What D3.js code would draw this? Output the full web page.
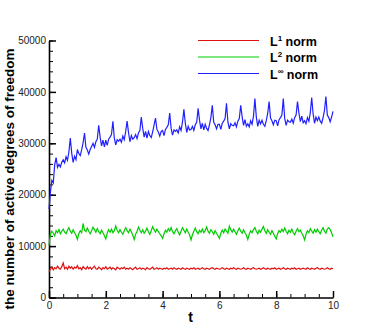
<!DOCTYPE html>
<html lang="en">
<head>
<meta charset="UTF-8">
<title>Active degrees of freedom</title>
<script src="https://d3js.org/d3.v7.min.js"></script>
<style>
  body { margin: 0; background: #fff; }
  svg text { font-family: "Liberation Sans", Arial, sans-serif; }
  .tick text { font-size: 10px; fill: #222; }
  .axis path, .axis line { stroke: #000; }
</style>
</head>
<body>
<svg width="378" height="336"></svg>
<script>
// time samples: 0, 0.05, ..., 10 (201 points)
const tValues = d3.range(0, 201).map(i => i * 0.05);

const l1Norm = [
  5000, 5500, 5900, 5400, 5800, 5600, 6100, 5700, 5500, 6000,
  6700, 5600, 5900, 5500, 6100, 5700, 6000, 5500, 5900, 5700,
  6200, 5600, 5800, 5400, 6000, 5700, 5500, 6000, 5600, 5900,
  5500, 5800, 6100, 5600, 5500, 5900, 5700, 5400, 5800, 5600,
  6000, 5500, 5700, 5900, 5500, 5800, 5600, 5400, 5900, 5700,
  5500, 5800, 5600, 5900, 5500, 5700, 5500, 5800, 5600, 5400,
  5700, 5900, 5500, 5600, 5800, 5500, 5700, 5600, 5400, 5800,
  5600, 5500, 5700, 5900, 5500, 5600, 5800, 5500, 5700, 5600,
  5500, 5700, 5600, 5800, 5500, 5600, 5700, 5500, 5800, 5600,
  5500, 5700, 5600, 5500, 5800, 5600, 5500, 5700, 5600, 5500,
  5700, 5600, 5800, 5500, 5600, 5700, 5500, 5600, 5800, 5600,
  5500, 5700, 5600, 5500, 5700, 5800, 5600, 5500, 5700, 5600,
  5500, 5600, 5800, 5600, 5500, 5700, 5600, 5500, 5700, 5600,
  5800, 5600, 5500, 5700, 5600, 5500, 5600, 5800, 5600, 5500,
  5700, 5600, 5500, 5700, 5800, 5600, 5500, 5600, 5700, 5500,
  5600, 5800, 5600, 5500, 5700, 5600, 5500, 5700, 5600, 5800,
  5500, 5600, 5700, 5500, 5600, 5800, 5600, 5500, 5700, 5600,
  5500, 5700, 5600, 5800, 5500, 5600, 5700, 5500, 5600, 5700,
  5600, 5500, 5800, 5600, 5500, 5700, 5600, 5500, 5700, 5800,
  5600, 5500, 5700, 5600, 5500, 5600, 5800, 5600, 5500, 5700,
  5600
];

const l2Norm = [
  10200, 12300, 12900, 12500, 12000, 13000, 12600, 13200, 12400, 12900,
  13300, 12700, 12400, 13100, 13600, 12900, 12500, 13200, 12600, 12100,
  11300, 12400, 13000, 12600, 14400, 13100, 12800, 13500, 12900, 12400,
  13000, 13700, 13200, 12700, 13400, 12800, 12400, 13100, 12600, 12000,
  11400, 12500, 13200, 12700, 13300, 12600, 13000, 13900, 13100, 12600,
  13200, 12700, 12300, 13000, 13600, 13000, 12600, 13300, 12800, 12100,
  11300, 12300, 12900, 13700, 13100, 12600, 13200, 12500, 12900, 13500,
  12800, 12300, 13000, 13800, 13200, 12700, 13300, 12800, 12400, 12000,
  11500, 12400, 13100, 12700, 13400, 12900, 13600, 12800, 12400, 13000,
  13400, 12700, 12200, 12900, 13600, 13100, 12600, 13300, 12700, 12200,
  11200, 12200, 12900, 13500, 12800, 12400, 13100, 12700, 13300, 12600,
  13000, 13700, 12900, 12500, 13200, 12800, 12300, 13000, 12500, 12000,
  11500, 12500, 13100, 12600, 13300, 12900, 12500, 13900, 13200, 12700,
  13300, 12800, 12300, 13000, 13500, 12900, 12500, 13200, 12600, 12100,
  11300, 12300, 13000, 12600, 13200, 13600, 12900, 12400, 13100, 12700,
  13300, 13800, 13000, 12500, 13200, 12700, 12300, 13000, 12500, 11900,
  11400, 12400, 13000, 12700, 13300, 12800, 13500, 12900, 12400, 13100,
  12700, 13300, 12600, 12200, 12900, 13400, 12800, 13100, 12500, 12000,
  11200, 12300, 13000, 12600, 13400, 12900, 12500, 13200, 12700, 13300,
  12800, 12400, 13100, 13600, 12900, 12500, 13300, 13600, 13200, 12600,
  11800
];

const lInfNorm = [
  17200, 20500, 22800, 22300, 25800, 27200, 25300, 25900, 25400, 26300,
  26800, 26200, 27400, 26700, 28300, 31000, 28100, 26300, 27500, 26800,
  28800, 28000, 27600, 28700, 30100, 32000, 29200, 28700, 27900, 28800,
  29400, 30000, 29200, 30300, 30800, 33500, 31200, 29500, 30600, 29300,
  30600, 29600, 30800, 31200, 31700, 34300, 31000, 29700, 30700, 30400,
  30800, 30200, 31400, 30700, 32300, 34300, 32100, 30300, 31500, 30800,
  31100, 31700, 30900, 32000, 32500, 35100, 32900, 31200, 32300, 31000,
  32300, 31500, 31100, 32200, 33600, 34900, 32700, 32200, 31400, 32300,
  32500, 31500, 32700, 33100, 33600, 35900, 32900, 31600, 32600, 32300,
  32600, 32000, 33200, 32500, 34100, 36600, 33900, 32100, 33300, 32600,
  32700, 33300, 32500, 33600, 34100, 36800, 34500, 32800, 33900, 32600,
  33700, 32900, 32500, 33600, 35000, 37400, 34100, 33600, 32800, 33700,
  33700, 32700, 33900, 34300, 34800, 37800, 34100, 32800, 33800, 33500,
  33400, 34000, 33200, 34300, 34800, 37400, 35200, 33500, 34600, 33300,
  33800, 33200, 34400, 33700, 35300, 38700, 35100, 33300, 34500, 33800,
  34500, 33700, 33300, 34400, 35800, 38100, 34900, 34400, 33600, 34500,
  34400, 33400, 34600, 35000, 35500, 38700, 34800, 33500, 34500, 34200,
  34100, 34700, 33900, 35000, 35500, 38100, 35900, 34200, 35300, 34000,
  34400, 33800, 35000, 34300, 35900, 38900, 35700, 33900, 35100, 34400,
  35100, 34300, 33900, 35000, 36400, 39100, 35500, 35000, 34200, 35100,
  36200
];

const series = [
  { name: "1", values: l1Norm, color: "#e01010" },
  { name: "2", values: l2Norm, color: "#00cc00" },
  { name: "\u221E", values: lInfNorm, color: "#2020ff" }
];

const xTicks = [0, 2, 4, 6, 8, 10];
const xMinorTicks = d3.range(0, 21).map(i => i * 0.5);
const yTicks = [0, 10000, 20000, 30000, 40000, 50000];
const yMinorTicks = d3.range(0, 26).map(i => i * 2000);

const svg = d3.select("svg");

const x = d3.scaleLinear().domain([0, 10]).range([49, 333]);
const y = d3.scaleLinear().domain([0, 50000]).range([297.5, 40.5]);

// minor ticks first
svg.append("g")
    .attr("class", "axis")
    .attr("transform", "translate(0,297.5)")
    .call(d3.axisBottom(x).tickValues(xMinorTicks).tickSize(-3.5).tickSizeOuter(0).tickFormat(""))
    .call(g => g.select(".domain").remove());

svg.append("g")
    .attr("class", "axis")
    .attr("transform", "translate(49,0)")
    .call(d3.axisLeft(y).tickValues(yMinorTicks).tickSize(-4).tickSizeOuter(0).tickFormat(""))
    .call(g => g.select(".domain").remove());

const xAxis = svg.append("g")
    .attr("class", "axis")
    .attr("transform", "translate(0,297.5)")
    .call(d3.axisBottom(x).tickValues(xTicks).tickSize(-6.5).tickSizeOuter(0).tickPadding(4).tickFormat(d3.format("d")));
xAxis.selectAll(".tick line").attr("stroke-width", 1.5);
xAxis.select(".domain").attr("stroke-width", 1.6);

const yAxis = svg.append("g")
    .attr("class", "axis")
    .attr("transform", "translate(49,0)")
    .call(d3.axisLeft(y).tickValues(yTicks).tickSize(-7).tickSizeOuter(0).tickPadding(3).tickFormat(d3.format("d")));
yAxis.selectAll(".tick line").attr("stroke-width", 1.5);
yAxis.select(".domain").attr("stroke-width", 1.6);

const line = d3.line()
    .x((d, i) => x(tValues[i]))
    .y(d => y(d));

series.forEach(s => {
  svg.append("path")
      .datum(s.values)
      .attr("fill", "none")
      .attr("stroke", s.color)
      .attr("stroke-width", 1.2)
      .attr("d", line);
});

// legend
const legend = svg.append("g");
series.forEach((s, i) => {
  const ly = 40.5 + i * 16.5;
  legend.append("line")
      .attr("x1", 198).attr("x2", 259)
      .attr("y1", ly).attr("y2", ly)
      .attr("stroke", s.color).attr("stroke-width", 1);
  const txt = legend.append("text")
      .attr("x", 270).attr("y", ly + 5)
      .attr("font-size", 12.5).attr("font-weight", "bold").attr("fill", "#000");
  txt.append("tspan").text("L");
  txt.append("tspan").attr("dy", -5).attr("font-size", 8).text(s.name);
  txt.append("tspan").attr("dy", 5).text(" norm");
});

// axis titles
svg.append("text")
    .attr("x", 190.5).attr("y", 322)
    .attr("text-anchor", "middle")
    .attr("font-size", 14).attr("font-weight", "bold")
    .text("t");

svg.append("text")
    .attr("transform", "translate(13.5,179) rotate(-90)")
    .attr("text-anchor", "middle")
    .attr("font-size", 13.5).attr("font-weight", "bold")
    .text("the number of active degrees of freedom");
</script>
</body>
</html>
